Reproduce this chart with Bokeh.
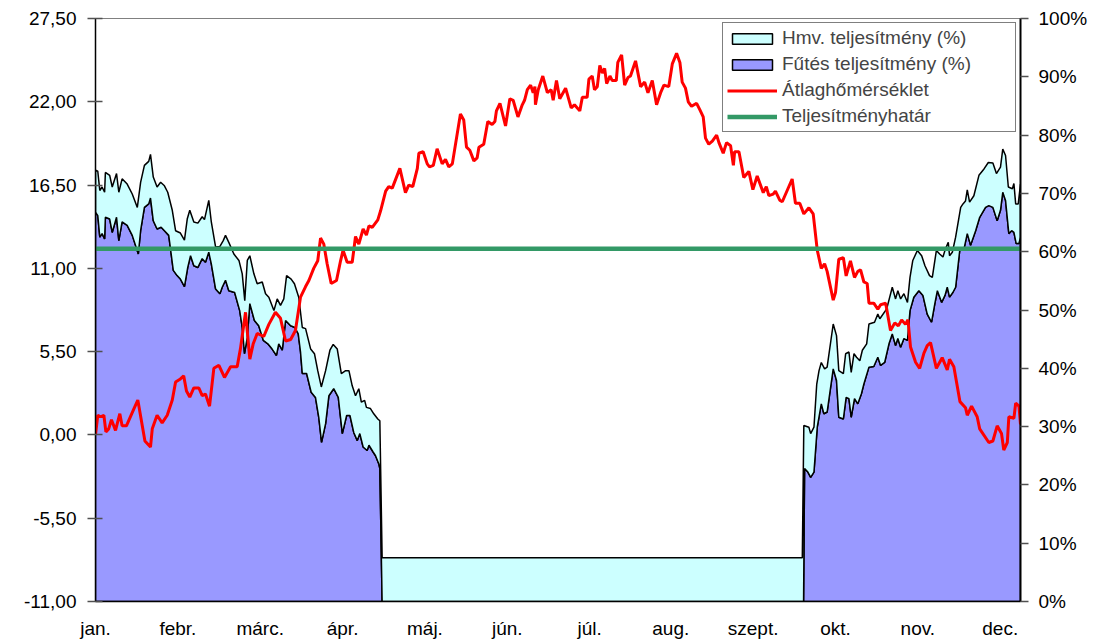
from bokeh.plotting import figure
from bokeh.models import Range1d, LinearAxis, FixedTicker, Legend, LegendItem
from bokeh.embed import file_html
from bokeh.resources import INLINE

# ---------------- data ----------------
month_labels = ["jan.", "febr.", "márc.", "ápr.", "máj.", "jún.", "júl.",
                "aug.", "szept.", "okt.", "nov.", "dec."]
month_tick_days = [0, 32.5, 65, 97.5, 130, 162.5, 195, 227, 259.5, 292, 324.5, 357]

temp_ticks = [-11, -5.5, 0, 5.5, 11, 16.5, 22, 27.5]
temp_tick_labels = ["-11,00", "-5,50", "0,00", "5,50", "11,00", "16,50", "22,00", "27,50"]
pct_ticks = [0, 10, 20, 30, 40, 50, 60, 70, 80, 90, 100]
pct_tick_labels = ["0%", "10%", "20%", "30%", "40%", "50%", "60%", "70%", "80%", "90%", "100%"]

# Átlaghőmérséklet (°C) – day of year / value
temp_days = [0.0, 0.9, 2.0, 3.3, 4.1, 5.2, 6.3, 7.9, 9.6, 10.5, 12.2, 15.1, 16.7, 19.5, 21.7,
             22.4, 24.3, 26.3, 28.3, 30.3, 31.6, 33.5, 34.8, 35.9, 37.2, 38.8, 40.8, 42.1, 43.4,
             45.0, 46.7, 48.7, 50.9, 53.3, 55.9, 57.2, 59.2, 60.9, 62.2, 63.8, 66.4, 68.4, 71.0,
             73.0, 75.0, 77.0, 78.9, 80.9, 82.9, 84.2, 86.1, 87.7, 88.8, 90.1, 91.4, 93.0, 95.1,
             96.7, 97.7, 99.3, 101.3, 102.6, 103.9, 105.6, 106.9, 107.9, 109.2, 111.4, 112.5,
             114.5, 115.7, 117.1, 120.1, 122.3, 123.6, 125.2, 127.0, 127.6, 129.3, 130.9, 131.8,
             133.3, 134.8, 136.8, 138.1, 139.4, 140.8, 144.0, 145.3, 146.4, 147.7, 149.3, 150.6,
             151.3, 153.2, 154.8, 156.5, 157.6, 158.2, 159.6, 161.8, 163.5, 164.8, 166.7, 168.4,
             169.3, 170.4, 171.7, 172.7, 173.4, 173.6, 174.7, 176.5, 178.3, 179.8, 180.6, 181.9,
             183.2, 185.5, 187.7, 189.0, 191.1, 192.1, 194.0, 194.7, 196.0, 196.9, 198.0, 199.0,
             200.0, 200.9, 201.7, 203.0, 203.9, 205.5, 206.1, 207.6, 208.8, 210.1, 211.1, 213.1,
             215.1, 216.7, 218.0, 219.7, 221.4, 223.0, 224.3, 226.2, 227.6, 229.3, 230.6, 231.5,
             232.8, 233.9, 235.2, 237.2, 238.4, 239.8, 240.7, 242.0, 243.4, 245.1, 246.0, 247.7,
             249.0, 250.6, 251.7, 252.2, 253.9, 255.8, 257.8, 259.4, 261.1, 263.5, 264.7, 265.7,
             267.4, 268.3, 270.0, 271.0, 274.9, 276.2, 277.9, 279.5, 281.5, 283.2, 284.8, 286.4,
             287.7, 288.7, 291.1, 292.0, 293.3, 295.1, 296.2, 297.9, 299.5, 300.8, 301.9, 303.2,
             304.5, 305.2, 307.1, 308.7, 309.8, 311.8, 313.7, 315.4, 316.8, 318.1, 319.6, 320.6,
             321.6, 323.6, 325.2, 326.9, 328.2, 329.5, 331.8, 334.1, 336.1, 337.0, 338.7, 341.1,
             343.3, 344.0, 345.7, 347.9, 348.9, 352.5, 354.1, 355.8, 357.5, 358.4, 359.8, 360.4,
             362.4, 363.1, 364.4, 365.0]
temp_values = [0.0, 1.3, 1.2, 1.3, 0.2, 0.4, 1.0, 0.3, 1.4, 0.6, 0.6, 1.7, 2.3, -0.4, -0.8,
               0.4, 1.3, 0.8, 1.3, 2.3, 3.5, 3.7, 3.9, 2.9, 2.5, 3.1, 3.1, 2.6, 2.7,
               1.9, 4.4, 4.6, 3.8, 4.5, 4.5, 5.7, 8.1, 5.0, 6.0, 6.7, 6.5, 7.3, 8.1,
               7.7, 6.2, 6.3, 6.9, 9.1, 9.8, 10.2, 11.0, 11.5, 13.0, 12.6, 11.3, 10.0, 10.2,
               11.5, 12.2, 11.4, 11.4, 13.1, 12.6, 13.6, 13.2, 13.8, 13.7, 14.2, 14.8,
               16.1, 16.4, 16.3, 17.6, 16.0, 16.5, 16.4, 17.6, 18.6, 18.7, 17.9, 17.7,
               17.8, 18.9, 17.9, 18.2, 17.7, 17.9, 21.2, 20.8, 19.0, 18.8, 18.1, 18.3,
               19.0, 19.2, 20.7, 20.5, 20.7, 21.4, 21.9, 20.4, 22.2, 22.1, 21.0, 21.8,
               22.1, 22.8, 23.1, 22.6, 23.0, 21.8, 22.8, 23.7, 22.6, 22.8, 22.1, 23.4,
               22.2, 22.9, 21.6, 21.8, 21.4, 22.3, 22.3, 23.5, 23.7, 22.8, 23.0, 24.4,
               23.9, 24.2, 23.2, 23.7, 23.4, 23.4, 24.6, 25.1, 23.1, 23.6, 23.7, 24.7,
               23.0, 23.3, 22.6, 23.4, 21.8, 22.6, 23.1, 23.0, 24.5, 25.2, 24.6, 23.3,
               22.9, 22.0, 21.7, 21.9, 21.5, 21.0, 19.6, 19.2, 19.4, 19.8, 19.3, 18.6,
               19.3, 19.1, 17.8, 18.7, 18.7, 17.0, 17.4, 16.2, 17.1, 16.0, 16.4, 15.8,
               15.9, 16.1, 15.5, 15.4, 16.9, 15.3, 15.3, 14.6, 15.0, 14.6, 12.2, 11.0,
               11.3, 10.8, 8.9, 9.4, 11.6, 11.7, 10.5, 11.5, 10.4, 10.8, 10.9, 10.1,
               10.0, 8.7, 8.7, 8.3, 8.6, 8.7, 6.9, 7.4, 7.2, 7.6, 7.3, 7.6,
               5.8, 4.8, 4.4, 5.4, 5.9, 6.1, 4.4, 5.1, 4.3, 5.0, 4.5, 2.2,
               1.8, 1.3, 1.9, 1.2, 0.4, -0.5, -0.4, 0.6, 0.1, -1.0, -0.5, 1.2,
               1.1, 2.1, 1.9, 0.7]

# Fűtés + Hmv. teljesítmény (%) – upper edge of the stacked areas
total_days = [0.0, 0.9, 1.7, 2.6, 3.6, 3.9, 5.6, 6.6, 8.3, 9.2, 10.5, 12.5, 14.5, 16.5, 17.8,
              19.3, 21.0, 21.7, 22.8, 24.3, 25.7, 27.2, 28.5, 30.3, 31.6, 33.5, 35.1, 36.2, 37.2,
              38.8, 40.4, 42.1, 43.0, 44.7, 45.7, 47.4, 49.1, 50.4, 51.3, 52.6, 54.6, 56.6, 57.9,
              58.9, 59.9, 60.9, 62.5, 63.8, 65.8, 67.1, 68.4, 70.4, 71.7, 73.0, 74.3, 75.4, 77.2,
              78.5, 80.2, 81.6, 82.9, 84.9, 86.4, 87.7, 89.1, 90.8, 92.5, 93.8, 95.4, 97.0, 98.7,
              100.0, 101.3, 102.6, 103.9, 104.9, 106.2, 106.9, 108.5, 109.8, 111.4, 112.2, 113.1,
              278.9, 279.5, 281.5, 282.2, 283.5, 284.6, 285.5, 286.4, 287.7, 288.7, 291.1, 292.4,
              293.3, 295.1, 296.0, 297.3, 298.2, 299.3, 300.3, 301.6, 302.6, 304.3, 305.2, 307.4,
              308.7, 309.5, 312.2, 314.4, 315.7, 316.6, 317.7, 319.0, 320.4, 321.4, 322.5, 324.3,
              326.0, 327.3, 329.1, 330.2, 331.8, 333.1, 334.4, 335.4, 336.5, 337.0, 338.1, 339.4,
              341.4, 342.3, 343.3, 344.0, 344.9, 346.6, 348.6, 350.6, 352.3, 354.1, 355.5, 357.1,
              358.0, 359.1, 360.2, 361.8, 362.4, 363.1, 364.1, 365.0]
total_pct = [74.0, 73.8, 70.5, 71.1, 70.2, 73.6, 73.1, 71.1, 73.4, 70.2, 72.5, 71.6, 69.9, 67.6, 71.9,
             74.8, 75.5, 76.7, 72.8, 71.1, 71.9, 71.3, 70.2, 67.1, 63.6, 63.2, 62.0, 65.6, 67.1,
             65.1, 64.9, 66.0, 65.5, 68.8, 65.1, 60.8, 60.9, 61.9, 62.8, 61.6, 59.6, 58.5, 56.2,
             51.6, 58.5, 59.3, 56.2, 54.5, 54.8, 52.8, 52.2, 49.9, 51.9, 50.8, 51.9, 55.9, 55.3,
             54.5, 52.2, 47.0, 46.8, 43.3, 42.5, 39.6, 36.8, 39.6, 43.1, 44.1, 43.3, 39.1, 39.6,
             39.6, 37.0, 35.3, 36.5, 34.2, 34.5, 33.3, 33.1, 32.2, 31.3, 31.0, 7.5,
             7.5, 30.2, 29.9, 28.8, 29.9, 37.3, 39.6, 41.0, 39.9, 40.2, 47.6, 45.6,
             39.6, 39.1, 42.5, 42.8, 39.3, 42.5, 41.9, 41.3, 43.1, 44.2, 47.6, 47.9,
             49.3, 48.5, 50.2, 53.9, 51.9, 53.3, 51.9, 52.8, 51.3, 55.6, 58.5, 60.2,
             59.3, 57.6, 55.9, 55.6, 60.2, 59.6, 59.1, 60.5, 61.6, 59.3, 59.9, 62.5,
             67.6, 68.2, 68.7, 70.6, 68.5, 69.6, 73.1, 74.2, 75.3, 75.2, 73.4, 74.5,
             77.6, 76.5, 71.1, 70.8, 71.7, 68.2, 68.2, 71.6]

# Fűtés teljesítmény (%)
heating_days = [0.0, 0.9, 1.7, 2.6, 3.6, 3.9, 5.6, 6.6, 8.3, 9.2, 10.5, 12.5, 14.5, 16.9, 17.8,
                19.3, 21.0, 21.7, 22.8, 24.3, 25.9, 27.2, 28.9, 30.7, 32.2, 33.5, 35.1, 36.4, 37.5,
                38.8, 40.4, 42.1, 43.4, 44.7, 45.7, 47.4, 49.1, 50.0, 51.3, 52.6, 54.9, 56.9, 57.9,
                58.8, 59.9, 60.9, 62.7, 64.4, 66.2, 68.0, 69.7, 71.4, 72.3, 73.7, 75.0, 77.0, 78.7,
                80.0, 80.9, 81.6, 83.3, 85.1, 86.8, 88.1, 89.2, 90.8, 92.1, 94.0, 95.8, 97.4, 99.1,
                100.4, 101.9, 103.3, 104.3, 105.6, 107.2, 107.9, 109.6, 110.5, 111.8, 112.2, 113.1,
                279.4, 279.8, 281.1, 282.2, 283.5, 284.8, 286.4, 287.4, 288.7, 291.1, 292.4, 293.3,
                295.1, 296.2, 297.3, 298.2, 299.5, 300.8, 302.2, 303.2, 305.2, 307.1, 308.7, 309.8,
                311.4, 313.1, 314.4, 315.7, 316.6, 317.7, 319.0, 320.4, 321.4, 322.9, 324.9, 326.5,
                328.2, 329.9, 331.2, 332.2, 333.9, 335.2, 336.1, 337.0, 338.3, 339.4, 341.1, 342.7,
                344.0, 345.3, 347.3, 348.9, 351.2, 352.5, 354.1, 355.8, 357.1, 358.0, 359.1, 360.4,
                361.5, 362.4, 363.3, 364.4, 365.0]
heating_pct = [66.8, 66.2, 62.5, 63.1, 62.2, 65.9, 65.6, 63.3, 65.9, 61.9, 65.1, 64.5, 62.8, 59.6, 63.6,
               67.6, 68.2, 69.2, 65.3, 63.9, 64.2, 63.6, 62.8, 56.8, 55.9, 55.3, 54.0, 57.3, 59.3,
               57.6, 57.3, 58.8, 58.2, 59.9, 57.9, 53.6, 52.8, 53.9, 55.1, 53.3, 53.0, 49.9, 47.0,
               42.5, 45.3, 51.1, 48.2, 47.3, 44.8, 44.2, 43.3, 42.2, 44.2, 43.1, 48.2, 47.3, 47.0,
               45.9, 42.8, 39.1, 39.1, 35.9, 35.0, 31.6, 27.3, 30.5, 35.3, 36.5, 35.0, 28.8, 31.9,
               31.9, 29.0, 27.6, 28.8, 26.5, 25.9, 26.8, 25.6, 25.0, 23.6, 22.8, 0.0,
               0.0, 22.8, 22.2, 21.3, 22.2, 29.9, 33.9, 32.2, 32.5, 39.9, 37.9, 31.6,
               31.3, 35.0, 34.8, 31.6, 34.8, 33.9, 35.6, 37.3, 40.2, 40.3, 41.9, 40.5,
               41.0, 44.2, 45.9, 43.9, 45.1, 43.6, 45.1, 44.8, 49.9, 52.2, 53.3, 52.5,
               49.3, 47.9, 51.1, 53.3, 51.3, 52.5, 53.9, 52.2, 53.0, 53.9, 60.5, 60.5,
               63.1, 61.1, 63.6, 65.9, 67.6, 67.9, 67.6, 65.3, 67.1, 70.2, 68.8, 63.1,
               63.6, 63.3, 61.4, 61.4, 62.5]

threshold_pct = 60.5  # Teljesítményhatár

FONT = "Liberation Sans"

# ---------------- figure ----------------
p = figure(width=1095, height=642, output_backend="svg", toolbar_location=None,
           x_range=Range1d(0, 365), y_range=Range1d(-11, 27.5),
           min_border_left=95, min_border_right=75, min_border_top=18, min_border_bottom=41,
           background_fill_color="white", border_fill_color="white")
p.extra_y_ranges = {"pct": Range1d(0, 100)}
p.xgrid.visible = False
p.ygrid.visible = False
p.outline_line_color = "#808080"
p.outline_line_width = 1

# heating area (from 0 up to heating edge)
heat_xs = heating_days + [heating_days[-1], heating_days[0]]
heat_ys = heating_pct + [0, 0]
r_heat = p.patch(heat_xs, heat_ys, y_range_name="pct", fill_color="#9999FF",
                 line_color="black", line_width=1.5)

# hmv band (between heating edge and total edge)
hmv_xs = total_days + heating_days[::-1]
hmv_ys = total_pct + heating_pct[::-1]
r_hmv = p.patch(hmv_xs, hmv_ys, y_range_name="pct", fill_color="#CCFFFF",
                line_color="black", line_width=1.5)

r_temp = p.line(temp_days, temp_values, line_color="#FF0000", line_width=3)

r_thr = p.line([temp_days[0], temp_days[-1]], [threshold_pct, threshold_pct],
               y_range_name="pct", line_color="#339966", line_width=4.5)

# ---------------- axes ----------------
ax_left = p.yaxis[0]
ax_left.ticker = FixedTicker(ticks=temp_ticks)
ax_left.major_label_overrides = {t: l for t, l in zip(temp_ticks, temp_tick_labels)}
ax_left.axis_line_color = "black"
ax_left.axis_line_width = 1.5
ax_left.major_tick_in = 7
ax_left.major_tick_out = 8
ax_left.major_tick_line_color = "#505050"
ax_left.major_tick_line_width = 1.5
ax_left.minor_tick_line_color = None
ax_left.major_label_standoff = 11
ax_left.major_label_text_font = FONT
ax_left.major_label_text_font_size = "19px"
ax_left.major_label_text_color = "black"

ax_right = LinearAxis(y_range_name="pct", ticker=FixedTicker(ticks=pct_ticks))
ax_right.major_label_overrides = {t: l for t, l in zip(pct_ticks, pct_tick_labels)}
ax_right.axis_line_color = "black"
ax_right.axis_line_width = 2
ax_right.major_tick_in = 0
ax_right.major_tick_out = 8
ax_right.major_tick_line_color = "#505050"
ax_right.major_tick_line_width = 1.5
ax_right.minor_tick_line_color = None
ax_right.major_label_standoff = 10
ax_right.major_label_text_font = FONT
ax_right.major_label_text_font_size = "19px"
ax_right.major_label_text_color = "black"
p.add_layout(ax_right, "right")

ax_bot = p.xaxis[0]
ax_bot.ticker = FixedTicker(ticks=month_tick_days)
ax_bot.major_label_overrides = {t: l for t, l in zip(month_tick_days, month_labels)}
ax_bot.axis_line_color = "black"
ax_bot.axis_line_width = 1.5
ax_bot.major_tick_in = 0
ax_bot.major_tick_out = 0
ax_bot.minor_tick_line_color = None
ax_bot.major_label_standoff = 16
ax_bot.major_label_text_font = FONT
ax_bot.major_label_text_font_size = "19px"
ax_bot.major_label_text_color = "black"

# ---------------- legend ----------------
legend = Legend(items=[
    LegendItem(label="Hmv. teljesítmény (%)", renderers=[r_hmv]),
    LegendItem(label="Fűtés teljesítmény (%)", renderers=[r_heat]),
    LegendItem(label="Átlaghőmérséklet", renderers=[r_temp]),
    LegendItem(label="Teljesítményhatár", renderers=[r_thr]),
], location="top_right")
legend.margin = 4
legend.padding = 4
legend.spacing = 4
legend.glyph_width = 50
legend.glyph_height = 13
legend.label_standoff = 5
legend.label_height = 21
legend.label_width = 229
legend.label_text_font = FONT
legend.label_text_font_size = "19px"
legend.border_line_color = "black"
legend.border_line_width = 1
legend.background_fill_color = "white"
legend.background_fill_alpha = 1.0
p.add_layout(legend)

open("out.html", "w").write(file_html(p, INLINE))
